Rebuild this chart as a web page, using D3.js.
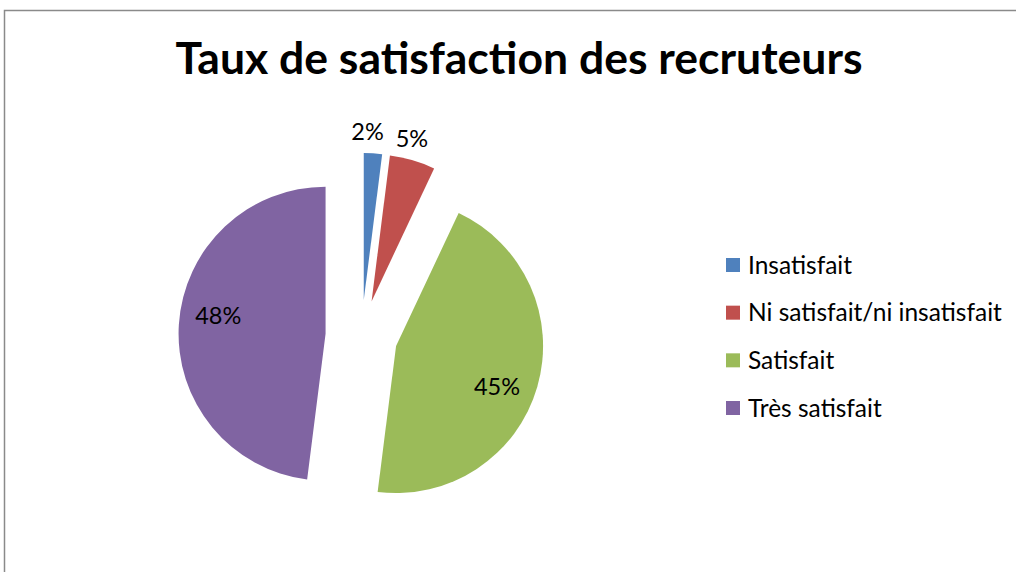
<!DOCTYPE html>
<html>
<head>
<meta charset="utf-8">
<script src="https://cdn.jsdelivr.net/npm/d3@7"></script>
<style>
  body { margin: 0; background: #fff; }
  svg { display: block; font-family: Lato, "Open Sans", sans-serif; }
</style>
</head>
<body>
<svg id="chart" width="1016" height="572"></svg>
<script>
// data
const categories = ["Insatisfait", "Ni satisfait/ni insatisfait", "Satisfait", "Très satisfait"];
const values = [2, 5, 45, 48];
const colors = ["#4F81BD", "#C0504D", "#9BBB59", "#8064A2"];

let width = 1016, height = 572;
let cx = 361.5, cy = 336, radius = 147, explode = 36;

let svg = d3.select('#chart');

// chart border (clipped by the picture on right and bottom)
svg.append('path')
    .attr('d', `M4.5,${height} L4.5,10.5 L${width},10.5`)
    .attr('fill', 'none')
    .attr('stroke', '#8a8a8a')
    .attr('stroke-width', 1.5);

svg.append('text')
    .attr('x', 519)
    .attr('y', 74)
    .attr('text-anchor', 'middle')
    .style('font-weight', 'bold')
    .style('font-size', '44.5px')
    .attr('fill', '#000')
    .text('Taux de satisfaction des recruteurs');

let pie = d3.pie().sort(null).value(d => d);
let arcs = pie(values);
let arc = d3.arc().innerRadius(0).outerRadius(radius);

function offset(d, dist, shift) {
    let mid = (d.startAngle + d.endAngle) / 2 + (shift || 0);
    return [Math.sin(mid) * dist, -Math.cos(mid) * dist];
}

let g = svg.append('g').attr('transform', `translate(${cx},${cy})`);

let slices = g.selectAll('g.slice')
    .data(arcs)
    .enter()
    .append('g')
    .attr('class', 'slice')
    .attr('transform', d => {
        let o = offset(d, explode);
        return `translate(${o[0]},${o[1]})`;
    });

slices.append('path')
    .attr('d', arc)
    .attr('fill', (d, i) => colors[i]);

// big slices labelled inside, small ones just outside the rim
slices.append('text')
    .attr('transform', d => {
        let o = d.value >= 10 ? offset(d, radius * 0.74, 0.1) : offset(d, radius + 21, -0.04);
        return `translate(${o[0]},${o[1]})`;
    })
    .attr('text-anchor', 'middle')
    .attr('dy', '0.35em')
    .style('font-size', '23.5px')
    .attr('fill', '#000')
    .text(d => d.value + '%');

// legend
let legendY = d3.scalePoint().domain(categories).range([265, 408]);

let legend = svg.append('g').selectAll('g')
    .data(categories)
    .enter()
    .append('g')
    .attr('transform', d => `translate(726,${legendY(d)})`);

legend.append('rect')
    .attr('x', 0)
    .attr('y', -7)
    .attr('width', 14)
    .attr('height', 14)
    .attr('fill', (d, i) => colors[i]);

legend.append('text')
    .attr('x', 22)
    .attr('dy', '0.35em')
    .style('font-size', '24.5px')
    .attr('fill', '#000')
    .text(d => d);
</script>
</body>
</html>
